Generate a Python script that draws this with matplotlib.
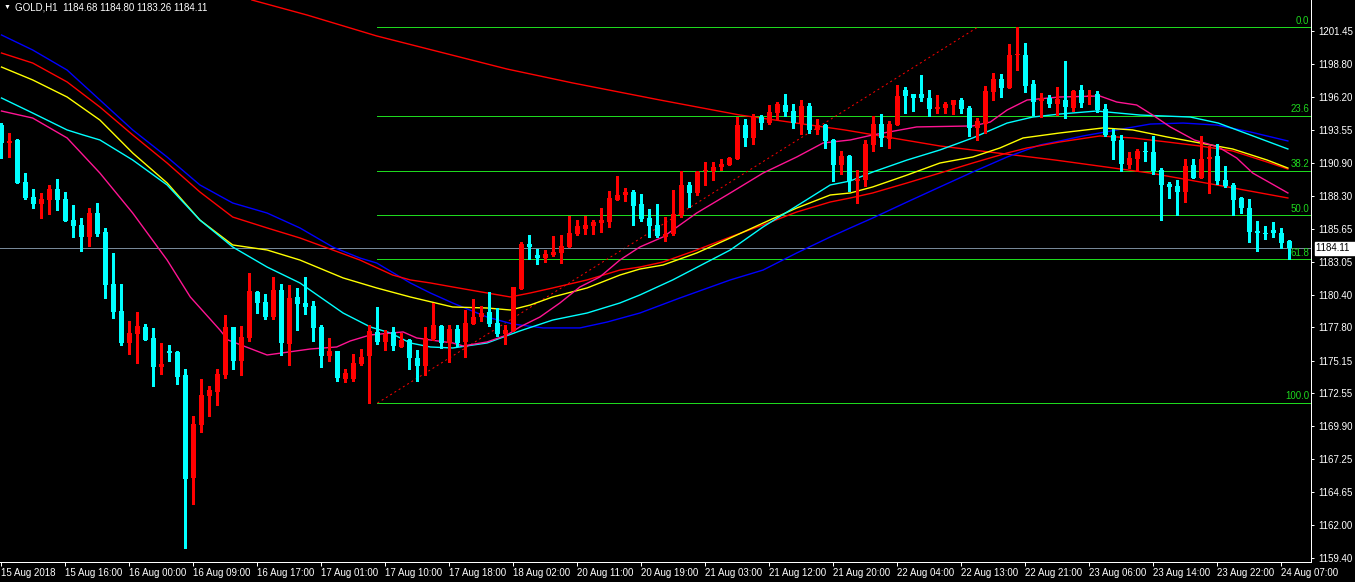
import matplotlib
matplotlib.use("Agg")
import matplotlib.pyplot as plt
import matplotlib.transforms as mtransforms
import numpy as np

plt.rcParams['font.family'] = ['Liberation Sans', 'DejaVu Sans']

# ---------------- data (GOLD, H1) ----------------
opens = [1193.95, 1192.53, 1192.75, 1189.42, 1188.20, 1187.67, 1187.98, 1188.84, 1188.04, 1186.36,
         1185.97, 1185.03, 1186.92, 1185.41, 1181.28, 1179.10, 1176.55, 1177.29, 1177.83, 1176.95,
         1174.63, 1175.91, 1175.83, 1173.99, 1165.78, 1170.00, 1172.32, 1172.64, 1173.99, 1177.83,
         1175.14, 1176.95, 1180.62, 1179.82, 1178.60, 1180.78, 1176.49, 1180.22, 1179.74, 1179.50,
         1177.83, 1175.54, 1175.91, 1173.68, 1173.68, 1174.90, 1175.54, 1177.45, 1176.65, 1177.45,
         1176.25, 1176.81, 1175.38, 1174.74, 1176.87, 1177.91, 1176.55, 1177.67, 1176.63, 1178.06,
         1178.62, 1179.02, 1178.14, 1177.27, 1177.51, 1180.86, 1184.45, 1183.57, 1183.33, 1183.57,
         1183.73, 1184.21, 1185.25, 1185.65, 1185.89, 1186.12, 1186.20, 1187.96, 1188.36, 1188.60,
         1187.64, 1186.52, 1185.97, 1185.01, 1185.25, 1186.76, 1189.16, 1188.52, 1190.27, 1190.27,
         1190.59, 1190.75, 1191.23, 1193.95, 1192.91, 1194.58, 1194.10, 1194.90, 1195.54, 1195.06,
         1194.02, 1195.46, 1193.55, 1193.95, 1192.75, 1190.75, 1191.47, 1189.48, 1189.56, 1192.35,
         1194.02, 1192.83, 1193.95, 1196.74, 1196.42, 1196.42, 1196.10, 1195.22, 1195.30, 1195.54,
         1195.94, 1195.30, 1193.71, 1194.02, 1196.58, 1197.62, 1196.90, 1199.53, 1199.53, 1197.22,
         1195.86, 1196.10, 1195.62, 1195.94, 1195.30, 1196.74, 1196.26, 1196.42, 1195.22, 1193.15,
         1192.75, 1190.75, 1191.23, 1191.87, 1191.79, 1190.35, 1189.24, 1189.08, 1188.60, 1190.75,
         1189.72, 1191.23, 1191.47, 1189.56, 1189.16, 1188.12, 1187.32, 1185.49, 1185.33, 1185.57,
         1185.33, 1184.68]
highs = [1194.10, 1193.33, 1192.80, 1190.14, 1188.84, 1188.52, 1189.16, 1189.64, 1188.60, 1187.54,
         1186.52, 1187.32, 1187.72, 1185.73, 1183.73, 1181.28, 1178.30, 1179.02, 1178.06, 1177.75,
         1176.55, 1176.39, 1175.93, 1174.47, 1170.72, 1173.68, 1173.12, 1174.47, 1178.78, 1177.83,
         1177.91, 1182.13, 1180.70, 1180.46, 1181.82, 1181.26, 1181.18, 1180.94, 1181.82, 1179.90,
         1177.99, 1176.95, 1175.91, 1174.47, 1175.67, 1176.07, 1177.99, 1179.42, 1177.59, 1177.85,
         1177.37, 1176.89, 1176.01, 1177.85, 1179.76, 1177.99, 1177.99, 1177.99, 1179.18, 1180.06,
         1179.50, 1180.62, 1179.34, 1177.99, 1181.02, 1184.61, 1185.17, 1184.05, 1183.97, 1185.09,
         1185.17, 1186.68, 1186.36, 1186.68, 1186.36, 1187.32, 1188.68, 1189.88, 1188.92, 1188.76,
         1188.44, 1187.24, 1187.64, 1186.60, 1188.76, 1190.27, 1189.40, 1190.27, 1190.99, 1190.99,
         1191.23, 1191.39, 1194.58, 1194.42, 1194.82, 1194.74, 1195.54, 1195.78, 1196.42, 1195.62,
         1195.94, 1195.70, 1194.42, 1194.02, 1192.83, 1191.87, 1191.55, 1190.35, 1192.75, 1194.66,
         1194.82, 1194.26, 1197.14, 1196.98, 1196.42, 1197.94, 1196.74, 1196.34, 1195.78, 1195.94,
         1196.10, 1195.46, 1194.50, 1197.06, 1198.09, 1198.01, 1200.41, 1201.74, 1200.49, 1197.54,
         1196.50, 1196.34, 1196.98, 1199.05, 1196.74, 1197.14, 1196.74, 1196.66, 1195.62, 1193.63,
         1193.15, 1191.79, 1192.03, 1192.59, 1193.07, 1190.51, 1189.40, 1189.56, 1191.23, 1191.23,
         1193.07, 1192.27, 1192.43, 1190.67, 1189.32, 1188.20, 1188.04, 1186.28, 1185.89, 1186.20,
         1185.73, 1184.80]
lows = [1191.31, 1191.37, 1189.30, 1188.06, 1187.35, 1186.55, 1186.87, 1187.19, 1186.31, 1185.03,
        1183.91, 1184.31, 1185.11, 1180.16, 1178.57, 1176.39, 1175.67, 1174.95, 1176.79, 1173.12,
        1174.07, 1175.11, 1173.28, 1160.19, 1163.70, 1169.45, 1170.72, 1171.60, 1173.78, 1174.50,
        1173.99, 1176.73, 1178.97, 1178.46, 1178.46, 1175.59, 1174.82, 1177.61, 1178.89, 1176.73,
        1174.66, 1175.14, 1173.54, 1173.46, 1173.54, 1174.82, 1171.76, 1176.49, 1176.01, 1176.01,
        1176.25, 1174.50, 1173.54, 1174.02, 1176.79, 1176.15, 1175.03, 1176.31, 1175.43, 1178.06,
        1178.30, 1177.91, 1177.11, 1176.47, 1177.51, 1180.86, 1183.25, 1182.85, 1183.01, 1183.49,
        1182.93, 1184.21, 1185.17, 1185.25, 1185.25, 1185.41, 1185.81, 1187.96, 1187.88, 1185.97,
        1186.28, 1185.01, 1185.01, 1184.69, 1185.17, 1186.60, 1187.40, 1188.36, 1189.16, 1189.56,
        1190.35, 1190.75, 1191.23, 1192.27, 1192.43, 1193.63, 1194.02, 1194.42, 1194.66, 1193.71,
        1193.23, 1193.31, 1193.23, 1192.11, 1189.48, 1190.03, 1188.68, 1187.72, 1189.08, 1191.87,
        1192.27, 1192.11, 1193.95, 1194.90, 1195.06, 1195.86, 1194.66, 1194.90, 1194.90, 1194.82,
        1194.90, 1193.07, 1192.75, 1193.31, 1195.94, 1196.18, 1196.90, 1198.33, 1196.58, 1194.74,
        1194.58, 1195.38, 1194.74, 1194.50, 1195.06, 1195.38, 1195.62, 1194.98, 1193.07, 1191.23,
        1190.27, 1190.51, 1190.27, 1191.07, 1190.03, 1186.36, 1188.12, 1186.76, 1187.80, 1189.72,
        1189.72, 1188.52, 1189.24, 1189.00, 1186.76, 1186.92, 1184.61, 1183.89, 1184.85, 1185.01,
        1184.13, 1183.26]
closes = [1192.53, 1192.69, 1189.34, 1188.14, 1187.67, 1188.04, 1188.84, 1187.98, 1186.31, 1185.89,
          1185.03, 1186.92, 1185.25, 1181.20, 1179.05, 1176.55, 1177.35, 1177.91, 1176.79, 1174.63,
          1174.87, 1175.75, 1173.83, 1165.70, 1170.08, 1172.40, 1172.80, 1174.07, 1177.83, 1175.14,
          1177.03, 1180.70, 1179.76, 1178.60, 1180.80, 1176.57, 1180.14, 1179.66, 1179.45, 1177.77,
          1175.54, 1175.91, 1173.78, 1174.15, 1174.95, 1175.43, 1177.51, 1176.65, 1177.27, 1176.33,
          1176.81, 1175.38, 1174.74, 1176.95, 1177.99, 1176.55, 1177.67, 1176.55, 1178.14, 1178.62,
          1178.94, 1178.06, 1177.27, 1177.59, 1181.02, 1184.45, 1184.21, 1183.33, 1183.65, 1183.81,
          1184.29, 1185.33, 1185.89, 1185.97, 1186.20, 1186.36, 1188.12, 1188.36, 1188.60, 1187.48,
          1186.44, 1185.89, 1185.09, 1185.25, 1186.84, 1189.16, 1188.52, 1190.19, 1190.35, 1190.59,
          1190.83, 1191.31, 1193.95, 1192.91, 1194.58, 1194.10, 1194.98, 1195.62, 1194.98, 1194.10,
          1195.46, 1193.55, 1193.95, 1192.67, 1190.75, 1191.47, 1189.48, 1189.64, 1192.43, 1194.02,
          1192.91, 1194.02, 1196.26, 1196.26, 1196.10, 1196.10, 1195.22, 1195.38, 1195.62, 1195.94,
          1195.22, 1193.71, 1194.26, 1196.66, 1197.62, 1196.90, 1199.53, 1199.60, 1197.06, 1195.78,
          1196.10, 1195.62, 1196.02, 1195.38, 1196.66, 1195.70, 1196.34, 1195.14, 1193.15, 1192.67,
          1190.83, 1191.31, 1191.87, 1191.79, 1190.27, 1189.16, 1189.00, 1188.60, 1190.67, 1189.72,
          1191.23, 1191.39, 1189.48, 1189.08, 1187.96, 1187.32, 1185.41, 1185.33, 1185.25, 1185.33,
          1184.53, 1184.11]

time_labels = ["15 Aug 2018", "15 Aug 16:00", "16 Aug 00:00", "16 Aug 09:00", "16 Aug 17:00",
               "17 Aug 01:00", "17 Aug 10:00", "17 Aug 18:00", "18 Aug 02:00", "20 Aug 11:00",
               "20 Aug 19:00", "21 Aug 03:00", "21 Aug 12:00", "21 Aug 20:00", "22 Aug 04:00",
               "22 Aug 13:00", "22 Aug 21:00", "23 Aug 06:00", "23 Aug 14:00", "23 Aug 22:00",
               "24 Aug 07:00"]
bars_per_label = 8

price_ticks = [1201.45, 1198.80, 1196.20, 1193.55, 1190.90, 1188.30, 1185.65, 1183.05, 1180.40,
               1177.80, 1175.15, 1172.55, 1169.90, 1167.25, 1164.65, 1162.00, 1159.40]

# moving averages (bar index, value)
ma_pink_bar = [0, 3.9, 8.2, 12.3, 16.4, 20.7, 23.6, 27.3, 28.3, 33.2, 38.6, 41.9, 43.6, 46.1, 50.2,
               51.9, 53.6, 56.4, 57.7, 60.7, 63.2, 64.8, 67.3, 69.8, 72.3, 74.8, 77.3, 79.8, 82.7,
               86.9, 91.1, 95.2, 99.4, 102.7, 106.1, 108.9, 114.4, 121.4, 123.6, 125.7, 128.2, 132.3,
               137.3, 139.4, 141.9, 143.9, 146.1, 149.1, 152.1, 154.4, 156.4, 158.6, 160.8]
ma_pink = [1195.06, 1194.50, 1192.91, 1190.11, 1186.92, 1183.17, 1180.22, 1177.59, 1176.79, 1175.59,
           1176.07, 1176.23, 1176.71, 1177.19, 1177.43, 1176.95, 1176.79, 1176.55, 1176.31, 1176.63,
           1177.19, 1177.83, 1178.62, 1179.74, 1181.02, 1181.82, 1183.17, 1184.21, 1185.01, 1186.92,
           1188.52, 1190.11, 1191.39, 1192.51, 1192.75, 1193.15, 1193.79, 1193.87, 1194.18, 1195.14,
           1195.94, 1196.18, 1196.26, 1195.78, 1195.54, 1194.74, 1193.79, 1192.75, 1192.19, 1191.31,
           1190.11, 1189.32, 1188.52]

ma_cyan_bar = [0, 3.9, 8.2, 10.2, 12.3, 16.4, 20.7, 24.8, 28.9, 33.2, 37.3, 42.7, 46.1, 48.6, 51.1,
               53.6, 56.4, 60.7, 64.8, 68.9, 73.2, 77.3, 79.8, 83.9, 91.1, 95.2, 99.4, 103.6, 106.1,
               108.9, 113.2, 117.3, 121.4, 125.7, 128.9, 132.3, 136.9, 142.3, 148.6, 152.1, 156.1, 160.8]
ma_cyan = [1196.10, 1194.90, 1193.55, 1193.15, 1192.75, 1191.15, 1189.16, 1186.36, 1184.21, 1182.61,
           1181.34, 1178.94, 1177.83, 1177.35, 1176.55, 1176.23, 1176.15, 1176.55, 1177.51, 1178.38,
           1178.94, 1179.74, 1180.38, 1181.58, 1183.97, 1185.81, 1187.48, 1189.16, 1189.48, 1190.19,
           1191.15, 1191.95, 1192.91, 1194.10, 1194.58, 1194.82, 1195.06, 1194.74, 1194.58, 1194.10,
           1193.15, 1192.03]

ma_yellow_bar = [0, 3.9, 8.2, 12.3, 16.4, 20.7, 24.8, 28.9, 33.2, 37.3, 42.7, 46.9, 51.1, 56.4, 60.7,
                 63.6, 66.1, 68.9, 73.2, 77.3, 79.8, 82.7, 86.9, 91.1, 95.2, 99.4, 103.6, 106.1, 108.9,
                 113.2, 117.3, 121.4, 124.8, 127.7, 132.3, 137.7, 141.4, 145.7, 149.8, 153.9, 158.2, 160.8]
ma_yellow = [1198.57, 1197.54, 1196.18, 1194.34, 1191.71, 1189.32, 1186.36, 1184.37, 1183.97, 1183.17,
             1181.74, 1180.94, 1180.22, 1179.42, 1179.34, 1179.18, 1179.58, 1180.22, 1180.94, 1181.97,
             1182.45, 1182.77, 1183.73, 1184.93, 1186.12, 1187.32, 1188.36, 1188.52, 1189.00, 1189.95,
             1190.91, 1191.39, 1192.11, 1192.91, 1193.31, 1193.71, 1193.55, 1192.99, 1192.51, 1192.03,
             1191.15, 1190.51]

ma_red_bar = [0, 3.9, 8.2, 12.3, 16.4, 20.7, 24.8, 28.9, 33.2, 37.3, 41.4, 44.8, 48.9, 51.1, 53.6,
              56.4, 60.7, 63.6, 66.1, 68.9, 73.2, 77.3, 79.8, 82.7, 86.9, 91.1, 95.2, 99.4, 103.6,
              106.1, 108.9, 113.2, 117.3, 121.4, 125.7, 128.2, 132.3, 137.3, 141.4, 145.7, 149.8,
              153.9, 158.2, 160.8]
ma_red = [1199.69, 1198.89, 1197.38, 1195.38, 1193.15, 1190.91, 1188.60, 1186.60, 1185.73, 1184.93,
          1183.97, 1183.17, 1181.97, 1181.58, 1181.34, 1181.02, 1180.54, 1180.22, 1180.54, 1180.94,
          1181.58, 1182.37, 1182.61, 1183.01, 1183.97, 1185.01, 1185.97, 1187.00, 1187.80, 1188.12,
          1188.52, 1189.32, 1190.11, 1190.91, 1191.71, 1192.11, 1192.59, 1193.07, 1192.91, 1192.59,
          1192.27, 1191.87, 1190.99, 1190.43]

ma_blue_bar = [0, 3.9, 8.2, 12.3, 16.4, 20.7, 24.8, 28.9, 33.2, 37.3, 41.4, 44.8, 46.9, 51.1, 53.6,
               56.4, 60.7, 63.9, 67.7, 72.3, 75.7, 79.8, 84.8, 91.1, 95.2, 99.4, 103.6, 106.1, 108.9,
               113.2, 117.3, 121.4, 125.7, 129.8, 132.3, 135.2, 139.4, 143.6, 147.7, 151.9, 156.1, 160.8]
ma_blue = [1201.13, 1199.93, 1198.33, 1195.94, 1193.55, 1191.39, 1189.16, 1187.72, 1186.92, 1185.73,
           1184.21, 1183.33, 1182.93, 1181.34, 1180.54, 1179.74, 1178.62, 1178.06, 1177.75, 1177.75,
           1178.22, 1178.94, 1180.14, 1181.58, 1182.37, 1183.73, 1185.01, 1185.73, 1186.52, 1187.80,
           1189.00, 1190.19, 1191.39, 1192.35, 1192.67, 1193.07, 1193.55, 1194.02, 1194.10, 1193.94,
           1193.39, 1192.67]

ma_slow_bar = [31.3, 38.2, 46.9, 54.8, 63.2, 71.4, 82.3, 92.3, 105.4, 117.3, 131.7, 143.6, 151.9, 160.8]
ma_slow = [1203.92, 1202.72, 1201.05, 1199.77, 1198.41, 1197.30, 1195.94, 1194.74, 1193.55, 1192.27,
           1191.15, 1190.11, 1189.16, 1188.12]

fib_start_bar = 47
fib_end_bar = 122
fib_high = 1201.74
fib_low = 1171.76
fib_levels = [0.0, 23.6, 38.2, 50.0, 61.8, 100.0]

last_price = 1184.11
header = "GOLD,H1  1184.68 1184.80 1183.26 1184.11"

# ---------------- figure ----------------
W, H = 1355, 582
fig = plt.figure(figsize=(W / 100, H / 100), dpi=100, facecolor='black')
ax = fig.add_axes([0, 20 / H, 1311 / W, 562 / H], facecolor='black')

n = len(opens)
xmax = 163.69
ax.set_xlim(-0.1875, xmax)
ax.set_ylim(1159.07, 1203.92)

px = 0.72  # one pixel in points

# fibonacci levels
fib_green = '#1ED81E'
for lv in fib_levels:
    p = fib_high - (fib_high - fib_low) * lv / 100.0
    ax.hlines(p, fib_start_bar - 0.1, xmax, colors=fib_green, linewidth=px, zorder=1, antialiased=False)
    ax.text(163.45, p + 0.12, f"{lv:.1f}", color=fib_green, fontsize=7, ha='right', va='bottom', zorder=6)
ax.plot([fib_start_bar, fib_end_bar], [fib_low, fib_high], color='#FF0000', linewidth=px,
        linestyle=(0, (2, 3)), zorder=1)

# current price line
ax.axhline(last_price, color='#778899', linewidth=px, zorder=1)

# moving averages
ax.plot(ma_slow_bar, ma_slow, color='#FF0000', linewidth=1.0, zorder=2)
ax.plot(ma_blue_bar, ma_blue, color='#0000FF', linewidth=1.0, zorder=2)
ax.plot(ma_red_bar, ma_red, color='#FF0000', linewidth=1.0, zorder=2)
ax.plot(ma_yellow_bar, ma_yellow, color='#FFFF00', linewidth=1.0, zorder=2)
ax.plot(ma_cyan_bar, ma_cyan, color='#00FFFF', linewidth=1.0, zorder=2)
ax.plot(ma_pink_bar, ma_pink, color='#FF1493', linewidth=1.0, zorder=2)

# candles
o = np.array(opens)
h = np.array(highs)
l = np.array(lows)
c = np.array(closes)
idx = np.arange(n)
cols = np.where(c > o, '#FF0000', '#00FFFF')
ax.vlines(idx, l, h, colors=cols, linewidth=1.0, zorder=3, antialiased=False)
body_bottom = np.minimum(o, c)
body_h = np.maximum(np.abs(c - o), 0.07)
ax.bar(idx, body_h, bottom=body_bottom, width=0.68, color=cols, linewidth=0, zorder=3,
       antialiased=False)

# axes styling
for s in ['left', 'top']:
    ax.spines[s].set_visible(False)
for s in ['right', 'bottom']:
    ax.spines[s].set_color('white')
    ax.spines[s].set_linewidth(px)

ax.yaxis.tick_right()
ax.set_yticks(price_ticks)
ax.set_yticklabels([f"{v:.2f}" for v in price_ticks])
ax.tick_params(axis='y', colors='white', labelsize=7, length=2.5, width=px, pad=3)

ax.set_xticks(list(range(0, bars_per_label * len(time_labels), bars_per_label)))
ax.set_xticklabels(time_labels)
for t in ax.get_xticklabels():
    t.set_ha('left')
ax.tick_params(axis='x', colors='white', labelsize=7, length=3, width=px, pad=1.5)

# last price box on the price scale
trans = mtransforms.blended_transform_factory(ax.transAxes, ax.transData)
ax.text(1.004, last_price, f"{last_price:.2f}  ", transform=trans, ha='left', va='center',
        color='black', fontsize=7, zorder=7, clip_on=False,
        bbox=dict(facecolor='white', edgecolor='white', pad=1.2))

# header
fig.text(4 / W, 1 - 7 / H, "\u25BC", color='white', fontsize=5, va='center', ha='left')
fig.text(15 / W, 1 - 7 / H, header, color='white', fontsize=7, va='center', ha='left')

fig.savefig('out.png', dpi=100, facecolor='black')
